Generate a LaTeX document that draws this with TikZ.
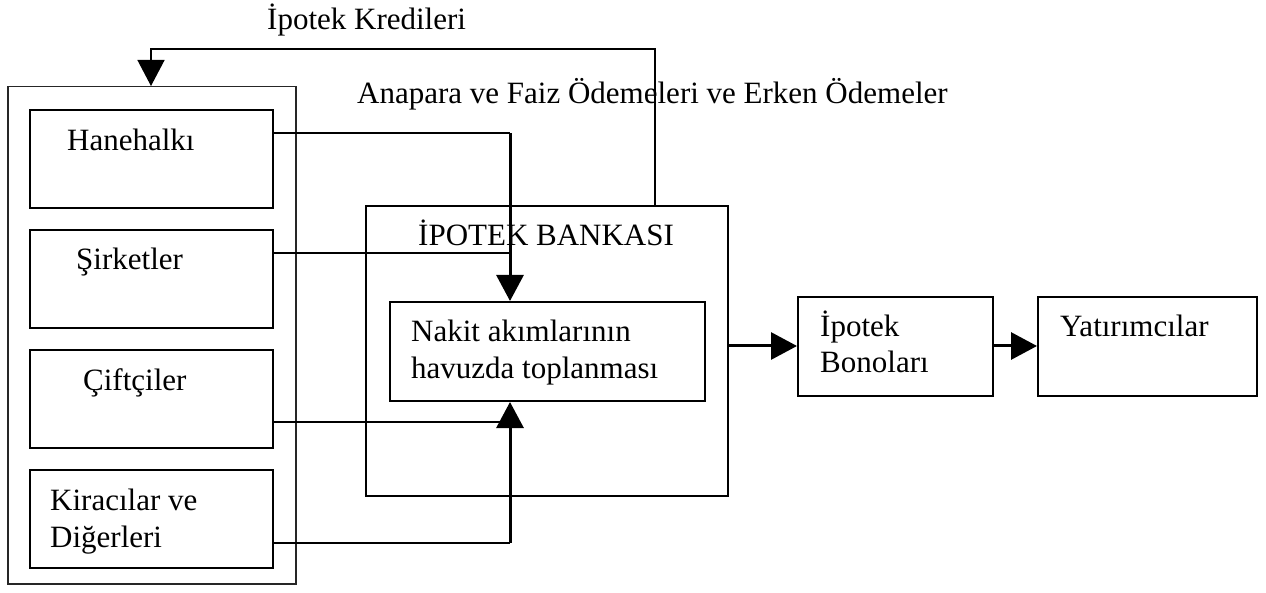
\documentclass[tikz,border=0pt]{standalone}
\usepackage{fontspec}
\setmainfont{Liberation Serif}
\usetikzlibrary{arrows.meta}
\begin{document}
\begin{tikzpicture}[x=1pt,y=-1pt,
  every node/.style={font=\fontsize{31}{37}\selectfont, inner sep=0pt},
  boxnode/.style={draw, line width=2pt, inner sep=0pt, anchor=north west},
  lbl/.style={anchor=base west},
  thinline/.style={line width=1.4pt},
  thickline/.style={line width=3pt},
  bigtip/.style={-{Triangle[length=26pt,width=27pt]}}
]
\useasboundingbox (0,0) rectangle (1266,593);

% outer group box
\node[boxnode, line width=1.5pt, draw=black!85, minimum width=288pt, minimum height=497pt] (outer) at (7,86) {};
% inner boxes
\node[boxnode, minimum width=243pt, minimum height=98pt] (hane) at (29,109) {};
\node[boxnode, minimum width=243pt, minimum height=98pt] (sirk) at (29,229) {};
\node[boxnode, minimum width=243pt, minimum height=98pt] (cift) at (29,349) {};
\node[boxnode, minimum width=243pt, minimum height=98pt] (kira) at (29,469) {};
\node[lbl] (thane) at (67,151) {Hanehalkı};
\node[lbl] (tsirk) at (76,270) {Şirketler};
\node[lbl] (tcift) at (83,390) {Çiftçiler};
\node[lbl] (tkira1) at (50,510) {Kiracılar ve};
\node[lbl] (tkira2) at (50,547) {Diğerleri};

% bank
\node[boxnode, minimum width=362pt, minimum height=290pt] (bank) at (365,205) {};
\node[lbl] (tbank) at (418,246) {İPOTEK BANKASI};
\node[boxnode, minimum width=315pt, minimum height=99pt] (pool) at (389,301) {};
\node[lbl] (tpool1) at (411,342) {Nakit akımlarının};
\node[lbl] (tpool2) at (411,378) {havuzda toplanması};

% right boxes
\node[boxnode, minimum width=195pt, minimum height=99pt] (bono) at (797,296) {};
\node[lbl] (tbono1) at (820,337) {İpotek};
\node[lbl] (tbono2) at (820,373) {Bonoları};
\node[boxnode, minimum width=219pt, minimum height=99pt] (yat) at (1037,296) {};
\node[lbl] (tyat) at (1060,337) {Yatırımcılar};

% labels
\node[lbl] (lkredi) at (267,30) {İpotek Kredileri};
\node[lbl] (lanapara) at (357,104) {Anapara ve Faiz Ödemeleri ve Erken Ödemeler};

% junction coordinates
\coordinate (jx) at (510,0);
\coordinate (lx) at (655,49);
\coordinate (ax) at (151,49);

% mortgage loans loop
\draw[thinline, bigtip] (lx |- bank.north) -- (lx) -- (ax) -- (ax |- outer.north);

% payments into pool
\coordinate (h1) at ([yshift=-24pt]hane.north east);
\coordinate (s1) at ([yshift=-24pt]sirk.north east);
\coordinate (c1) at ([yshift=-73pt]cift.north east);
\coordinate (k1) at ([yshift=-74pt]kira.north east);
\draw[thinline] (h1) -- (h1 -| jx);
\draw[thinline] (s1) -- (s1 -| jx);
\draw[thinline] (c1) -- (c1 -| jx);
\draw[thinline] (k1) -- (k1 -| jx);
\draw[thickline, bigtip] (h1 -| jx) -- (jx |- pool.north);
\draw[thickline, bigtip] (k1 -| jx) -- (jx |- pool.south);

% to bonds and investors
\coordinate (b1) at ([yshift=5pt]bank.east);
\draw[thickline, bigtip] (b1) -- (b1 -| bono.west);
\draw[thickline, bigtip] (b1 -| bono.east) -- (b1 -| yat.west);
\end{tikzpicture}
\end{document}
